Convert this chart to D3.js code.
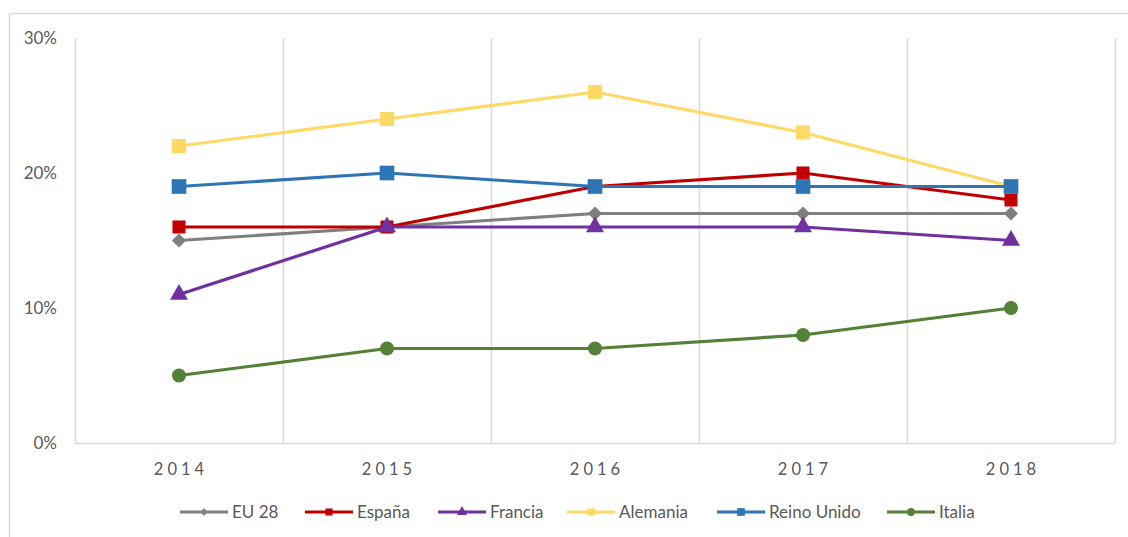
<!DOCTYPE html>
<html><head><meta charset="utf-8">
<script src="https://cdn.jsdelivr.net/npm/d3@7"></script>
<style>
html,body{margin:0;padding:0;background:#fff;}
svg{display:block;font-family:Lato,"Open Sans",sans-serif;}
</style></head>
<body>
<svg id="c" width="1128" height="537"></svg>
<script>
const years = ["2014","2015","2016","2017","2018"];
const seriesNames = ["EU 28","España","Francia","Alemania","Reino Unido","Italia"];
const eu28 = [15,16,17,17,17];
const espana = [16,16,19,20,18];
const francia = [11,16,16,16,15];
const alemania = [22,24,26,23,19];
const reinoUnido = [19,20,19,19,19];
const italia = [5,7,7,8,10];
const yTicks = [0,10,20,30];

const colors = ["#7f7f7f","#c00000","#7030a0","#ffd966","#2e75b6","#538135"];
const shapes = [d3.symbolSquare, d3.symbolSquare, d3.symbolTriangle, d3.symbolSquare, d3.symbolSquare, d3.symbolCircle];
const rotations = [45,0,0,0,0,0];
const sizes = [100, 170, 140, 200, 215, 155];
const legendSizes = [30, 50, 45, 55, 60, 50];
const values = [eu28, espana, francia, alemania, reinoUnido, italia];

const svg = d3.select("#c");
svg.append("rect").attr("x",9.5).attr("y",13.5).attr("width",1140).attr("height",540)
  .attr("fill","#fff").attr("stroke","#d9d9d9").attr("stroke-width",1.5);

const x = d3.scaleBand().domain(years).range([75,1115]).padding(0);
const y = d3.scaleLinear().domain([0,30]).range([443,38]);

const bounds = years.map(d=>x(d)).concat([x.range()[1]]);
svg.append("g").selectAll("line").data(bounds).join("line")
  .attr("x1",d=>d+0.5).attr("x2",d=>d+0.5).attr("y1",y(30)).attr("y2",y(0))
  .attr("stroke","#d9d9d9").attr("stroke-width",1.5);
svg.append("line").attr("x1",75).attr("x2",1115).attr("y1",y(0)+0.5).attr("y2",y(0)+0.5)
  .attr("stroke","#d9d9d9").attr("stroke-width",1.5);

svg.append("g").selectAll("text").data(yTicks).join("text")
  .attr("x",57).attr("y",d=>y(d)).attr("dy","0.35em").attr("text-anchor","end")
  .attr("fill","#595959").attr("font-size",17).text(d=>d+"%");

svg.append("g").selectAll("text").data(years).join("text")
  .attr("x",d=>x(d)+x.bandwidth()/2+2).attr("y",469).attr("dy","0.35em").attr("text-anchor","middle")
  .attr("fill","#595959").attr("font-size",16.5).attr("letter-spacing","4px").text(d=>d);

const line = d3.line().x((d,i)=>x(years[i])+x.bandwidth()/2).y(d=>y(d));

values.forEach((vals,si)=>{
  const g = svg.append("g");
  g.append("path").datum(vals).attr("d",line).attr("fill","none")
    .attr("stroke",colors[si]).attr("stroke-width",3.2).attr("stroke-linejoin","round");
  g.selectAll("path.m").data(vals).join("path").attr("class","m")
    .attr("transform",(d,i)=>`translate(${x(years[i])+x.bandwidth()/2},${y(d)}) rotate(${rotations[si]})`)
    .attr("d",d3.symbol().type(shapes[si]).size(sizes[si]))
    .attr("fill",colors[si]);
});

const legendX = [180,305,438,567,717,887];
const lg = svg.append("g");
seriesNames.forEach((name,i)=>{
  const gx = legendX[i], gy = 512;
  lg.append("line").attr("x1",gx).attr("x2",gx+48).attr("y1",gy).attr("y2",gy)
    .attr("stroke",colors[i]).attr("stroke-width",3.2);
  lg.append("path").attr("transform",`translate(${gx+24},${gy}) rotate(${rotations[i]})`)
    .attr("d",d3.symbol().type(shapes[i]).size(legendSizes[i])).attr("fill",colors[i]);
  lg.append("text").attr("x",gx+52).attr("y",gy).attr("dy","0.35em")
    .attr("fill","#595959").attr("font-size",17).text(name);
});
</script>
</body></html>
